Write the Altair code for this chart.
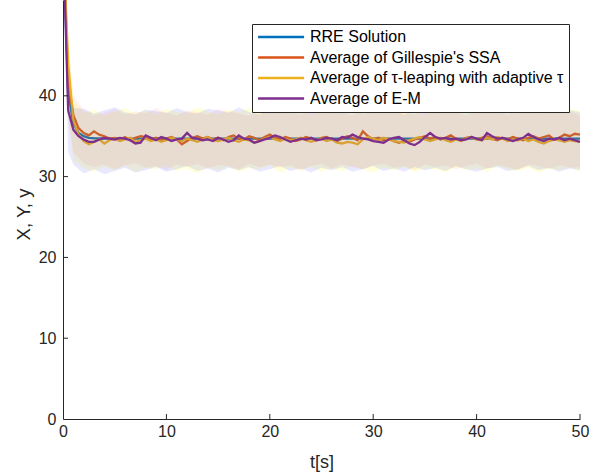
import altair as alt
import pandas as pd

FONT = "Liberation Sans"
AX = "#262626"

# time grid of the averaged trajectories (0.5 s sampling)
t = [i * 0.5 for i in range(101)]

# RRE solution (smooth)
rre_t = [0, 0.5, 1, 1.5, 2, 2.5, 3, 4, 5, 50]
rre_y = [60, 40.5, 36.6, 35.4, 35.0, 34.8, 34.75, 34.7, 34.7, 34.7]

ssa = [60, 42.0, 37.6, 36.0, 35.4, 35.1, 35.6, 35.2, 35.0, 34.7, 34.8,
       34.6, 34.9, 34.5, 34.8, 35.0, 34.9, 34.6, 34.8, 34.5, 34.7,
       34.9, 34.6, 34.0, 34.4, 34.8, 35.0, 34.7, 34.9, 34.6, 34.8,
       34.5, 34.9, 35.1, 34.7, 34.6, 35.0, 34.8, 34.5, 34.9, 35.2,
       34.8, 34.6, 34.9, 34.7, 34.4, 34.6, 34.9, 34.7, 34.5, 34.8,
       34.9, 34.6, 34.4, 34.7, 35.0, 34.8, 34.5, 35.6, 35.0, 34.6,
       34.8, 34.5, 34.7, 34.4, 34.2, 34.5, 34.3, 34.6, 34.8, 35.0,
       34.7, 34.9, 34.6, 34.8, 35.1, 34.7, 34.5, 34.8, 34.9, 34.6,
       34.8, 35.0, 34.7, 34.5, 34.8, 34.6, 34.9, 34.7, 34.5, 34.8,
       35.0, 34.7, 34.9, 35.1, 34.6, 34.8, 35.2, 35.0, 35.3, 35.2]

tau = [60, 44.0, 37.0, 35.2, 34.4, 34.0, 34.3, 34.6, 34.1, 34.5, 34.7,
       34.4, 34.6, 34.8, 34.3, 34.5, 34.7, 34.4, 34.6, 34.3, 34.5,
       34.8, 34.6, 34.4, 34.7, 34.5, 34.3, 34.6, 34.9, 34.5, 34.4,
       34.6, 34.8, 34.5, 34.3, 34.6, 34.5, 34.2, 34.4, 34.7, 34.9,
       34.6, 34.4, 34.7, 34.5, 34.6, 34.8, 34.5, 34.3, 34.5, 34.7,
       34.4, 34.6, 34.2, 34.1, 34.3, 34.2, 34.0, 34.6, 34.9, 34.7,
       34.5, 34.8, 34.6, 34.4, 34.3, 34.2, 34.5, 34.7, 34.9, 34.6,
       34.4, 34.6, 34.8, 34.5, 34.3, 34.6, 34.4, 34.7, 34.9, 34.6,
       34.5, 34.8, 34.6, 34.9, 34.7, 34.4, 34.6, 34.5, 34.7, 34.4,
       34.6, 34.3, 34.1, 34.4, 34.6, 34.5, 34.3, 34.5, 34.4, 34.3]

em = [60, 38.2, 35.8, 35.0, 34.6, 34.3, 34.3, 34.6, 34.8, 34.7, 34.6,
      34.8, 34.7, 34.5, 34.1, 34.2, 35.1, 34.8, 34.5, 34.9, 34.7,
      34.4, 34.6, 34.7, 35.4, 34.8, 34.7, 34.5, 34.6, 34.4, 34.8,
      34.6, 34.3, 34.5, 35.1, 34.7, 34.6, 34.2, 34.4, 34.6, 34.8,
      35.1, 34.9, 34.6, 34.3, 34.5, 34.7, 34.6, 34.8, 34.5, 34.6,
      34.8, 34.7, 34.5, 34.9, 34.8, 35.2, 34.9, 34.7, 34.6, 34.4,
      34.3, 34.2, 34.6, 34.8, 34.9, 34.5, 34.1, 33.9, 34.3, 34.9,
      35.4, 34.9, 34.7, 34.8, 34.6, 34.7, 34.5, 34.6, 34.9, 34.7,
      34.5, 35.4, 35.0, 34.7, 34.8, 34.6, 34.4, 34.6, 34.8, 35.3,
      34.9, 34.6, 34.4, 34.7, 34.6, 34.8, 34.5, 34.7, 34.5, 34.3]

# time grid of the spread bands
tb = [0, 0.5] + [float(i) for i in range(1, 51)]

ssa_hi = [62, 47, 40.0,
          38.3, 37.6, 37.9, 38.4, 37.7, 38.1, 37.8, 38.5, 37.9,
          37.6, 38.2, 38.0, 37.7, 38.3, 38.1, 37.8, 37.5, 38.2, 37.9,
          38.4, 38.0, 37.7, 38.1, 37.8, 38.3, 37.9, 37.6, 38.2, 38.0,
          37.8, 38.4, 37.9, 37.7, 38.1, 38.3, 37.8, 38.0, 37.6, 38.2,
          37.9, 38.1, 37.7, 38.3, 38.0, 37.8, 38.2, 37.9, 38.1, 37.6]
ssa_lo = [58, 37, 33.0,
          31.6, 31.2, 31.5, 30.9, 31.4, 31.7, 31.1, 31.3, 30.8,
          31.5, 31.2, 31.6, 31.0, 31.4, 31.3, 30.9, 31.6, 31.2, 31.5,
          31.1, 31.4, 30.8, 31.3, 31.6, 31.0, 31.5, 31.2, 30.9, 31.4,
          31.6, 31.1, 31.3, 30.8, 31.5, 31.2, 31.4, 30.9, 31.3, 31.6,
          31.0, 31.4, 31.2, 30.8, 31.5, 31.3, 30.9, 31.4, 31.1, 31.2]
tau_hi = [62, 48, 39.5,
          37.9, 38.3, 37.6, 38.0, 38.5, 37.8, 38.2, 37.7, 38.4,
          38.0, 37.8, 38.6, 38.1, 37.7, 38.3, 38.0, 38.5, 37.8, 38.2,
          37.9, 38.6, 38.0, 37.7, 38.4, 38.1, 37.8, 38.5, 37.9, 38.2,
          38.3, 37.8, 38.6, 38.0, 37.7, 38.4, 38.1, 38.6, 37.9, 38.3,
          38.0, 38.5, 37.8, 38.2, 38.6, 37.9, 38.3, 38.0, 38.4, 38.1]
tau_lo = [58, 38, 32.0,
          31.0, 30.6, 31.2, 30.8, 31.4, 30.5, 31.1, 30.9, 31.3,
          30.7, 31.0, 30.4, 31.2, 30.8, 31.3, 30.6, 31.0, 30.9, 31.4,
          30.5, 31.1, 30.8, 31.2, 30.6, 31.0, 30.7, 31.3, 30.9, 30.5,
          31.1, 30.8, 31.2, 30.6, 31.0, 30.9, 30.5, 31.2, 30.8, 31.0,
          30.6, 31.3, 30.9, 30.7, 31.1, 30.5, 31.0, 30.8, 31.2, 30.6]
em_hi = [62, 41, 38.5,
         38.4, 37.8, 38.2, 38.6, 38.0, 37.7, 38.3, 38.1, 37.9,
         38.5, 38.0, 37.8, 38.4, 38.2, 37.9, 38.6, 38.0, 37.7, 38.3,
         38.1, 37.8, 38.5, 38.0, 38.3, 37.9, 38.2, 38.6, 37.8, 38.0,
         38.4, 38.1, 37.7, 38.3, 38.0, 38.5, 37.9, 38.2, 38.4, 37.8,
         38.1, 38.3, 38.0, 37.8, 38.5, 38.1, 37.9, 38.3, 38.2, 38.0]
em_lo = [58, 33, 31.5,
         30.4, 30.9, 30.3, 30.7, 31.1, 30.5, 30.8, 31.2, 30.6,
         30.9, 31.3, 30.7, 31.0, 30.5, 31.1, 30.8, 31.2, 30.6, 30.9,
         31.3, 30.7, 31.0, 30.5, 31.1, 30.8, 31.2, 30.6, 30.9, 31.3,
         30.7, 31.0, 30.6, 31.2, 30.8, 31.1, 30.7, 31.3, 30.9, 30.6,
         31.0, 31.2, 30.7, 30.9, 31.3, 30.8, 31.1, 30.6, 31.0, 30.8]

names = ["RRE Solution", "Average of Gillespie's SSA",
         "Average of \u03c4-leaping with adaptive \u03c4", "Average of E-M"]
colors = ["#0072BD", "#D95319", "#EDB120", "#7E2F8E"]

x_ticks = [0, 10, 20, 30, 40, 50]
y_ticks = [0, 10, 20, 30, 40]

xs = alt.Scale(domain=[0, 50], nice=False, zero=False)
ys = alt.Scale(domain=[0, 51.86], nice=False, zero=False)
cs = alt.Scale(domain=names, range=colors)

xaxis = alt.Axis(values=x_ticks, tickSize=0, labelPadding=4, grid=False,
                 labelFlush=False,
                 domainColor=AX, labelColor=AX, titleColor=AX,
                 labelFontSize=16, titleFontSize=18, titleFontWeight="normal",
                 labelFont=FONT, titleFont=FONT, titlePadding=14, format="d")
yaxis = alt.Axis(values=y_ticks, tickSize=0, labelPadding=7, grid=False,
                 labelFlush=False,
                 domainColor=AX, labelColor=AX, titleColor=AX,
                 labelFontSize=16, titleFontSize=18.5, titleFontWeight="normal",
                 labelFont=FONT, titleFont=FONT, titlePadding=5, titleY=214,
                 format="d")

# long horizontal stroke symbol with a small nominal size so rows stay compact
legend = alt.Legend(title=None, orient="none", legendX=189, legendY=24,
                    symbolType="M-3,0H17", symbolSize=21.16, symbolStrokeWidth=2.5,
                    labelFontSize=16, labelFont=FONT, labelColor="#000000",
                    strokeColor=AX, fillColor="white", padding=5, rowPadding=4.5,
                    labelOffset=37, labelLimit=500)


def line_layer(tt, vv, name):
    df = pd.DataFrame({"t": tt, "v": vv, "series": name})
    return alt.Chart(df).mark_line(strokeWidth=2.3, clip=True).encode(
        x=alt.X("t:Q", scale=xs, axis=xaxis, title="t[s]"),
        y=alt.Y("v:Q", scale=ys, axis=yaxis, title="X, Y, y"),
        color=alt.Color("series:N", scale=cs, legend=legend),
    )


def band_layer(lo, hi, col, op):
    df = pd.DataFrame({"t": tb, "lo": lo, "hi": hi})
    return alt.Chart(df).mark_area(color=col, opacity=op, clip=True).encode(
        x=alt.X("t:Q", scale=xs),
        y=alt.Y("lo:Q", scale=ys),
        y2="hi:Q",
    )


xt = pd.DataFrame({"t": x_ticks[1:]})
yt = pd.DataFrame({"v": y_ticks[1:]})
xtick_layer = alt.Chart(xt).mark_rule(color=AX, strokeWidth=1, y2Offset=-5).encode(
    x=alt.X("t:Q", scale=xs), y=alt.datum(0, scale=ys), y2=alt.datum(0))
ytick_layer = alt.Chart(yt).mark_rule(color=AX, strokeWidth=1, x2Offset=5).encode(
    y=alt.Y("v:Q", scale=ys), x=alt.datum(0, scale=xs), x2=alt.datum(0))

chart = alt.layer(
    line_layer(rre_t, rre_y, names[0]),
    band_layer(ssa_lo, ssa_hi, "#ff0000", 0.06),
    line_layer(t, ssa, names[1]),
    band_layer(tau_lo, tau_hi, "#ffff00", 0.15),
    line_layer(t, tau, names[2]),
    band_layer(em_lo, em_hi, "#0000ff", 0.09),
    line_layer(t, em, names[3]),
    xtick_layer,
    ytick_layer,
).properties(
    width=517, height=419,
    autosize=alt.AutoSizeParams(type="none"),
    padding={"left": 63, "top": 0, "right": 10, "bottom": 54},
    background="white",
).configure_view(stroke=None)

chart.save("out.html", embed_options={"renderer": "svg", "actions": False})
